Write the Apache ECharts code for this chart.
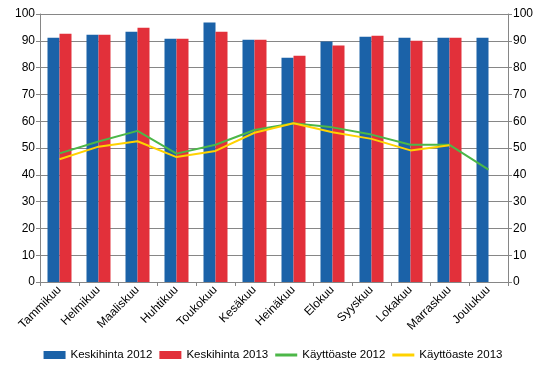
<!DOCTYPE html>
<html>
<head>
<meta charset="utf-8">
<script src="https://cdn.jsdelivr.net/npm/echarts@6/dist/echarts.min.js"></script>
<style>
  html, body {margin:0; padding:0; background:#fff;}
  #chart {width:546px; height:376px;}
</style>
</head>
<body>
<div id="chart"></div>
<script type="text/javascript">
// kuukaudet
var months = ['Tammikuu', 'Helmikuu', 'Maaliskuu', 'Huhtikuu', 'Toukokuu', 'Kesäkuu',
              'Heinäkuu', 'Elokuu', 'Syyskuu', 'Lokakuu', 'Marraskuu', 'Joulukuu'];
var price2012 = [91.1, 92.3, 93.4, 90.8, 96.8, 90.4, 83.7, 89.7, 91.5, 91.1, 91.1, 91.1];
var price2013 = [92.6, 92.3, 94.9, 90.8, 93.4, 90.4, 84.4, 88.2, 91.9, 90.0, 91.1, null];
var occ2012 = [48.0, 52.4, 56.4, 47.9, 51.2, 56.7, 59.2, 57.7, 55.0, 51.2, 51.2, 41.9];
var occ2013 = [45.8, 50.5, 52.5, 46.6, 48.9, 55.7, 59.2, 55.9, 53.4, 49.1, 51.0, null];

var font = 'Liberation Sans, Arial, sans-serif';
var gray = '#868686';
var lineIcon = 'path://M0 0H22V3H0Z';

var chart = echarts.init(document.getElementById('chart'));

function valAxis(pos) {
  return {
    type: 'value', position: pos, min: 0, max: 100, interval: 10,
    axisLine: {show: true, lineStyle: {color: gray}},
    axisTick: {show: true, length: 4, lineStyle: {color: gray}},
    axisLabel: {color: '#000', fontFamily: font, fontSize: 12, margin: 5},
    splitLine: {show: pos === 'left', lineStyle: {color: gray, width: 1}}
  };
}

chart.setOption({
  animation: false,
  textStyle: {fontFamily: font},
  grid: {left: 40, right: 38, top: 14, bottom: 94},
  legend: {
    bottom: 10, left: 'center', itemGap: 7, itemWidth: 22, itemHeight: 8,
    textStyle: {fontFamily: font, fontSize: 11.5, color: '#000'},
    data: [
      {name: 'Keskihinta 2012', icon: 'rect'},
      {name: 'Keskihinta 2013', icon: 'rect'},
      {name: 'Käyttöaste 2012', icon: lineIcon},
      {name: 'Käyttöaste 2013', icon: lineIcon}
    ]
  },
  xAxis: {
    type: 'category', data: months,
    axisLine: {lineStyle: {color: gray}},
    axisTick: {show: true, length: 4, lineStyle: {color: gray}},
    axisLabel: {color: '#000', fontFamily: font, fontSize: 12, rotate: 45, interval: 0, margin: 6}
  },
  yAxis: [valAxis('left'), valAxis('right')],
  series: [
    {name: 'Keskihinta 2012', type: 'bar', data: price2012, barWidth: 12, barGap: '0%',
     itemStyle: {color: '#1b62a8'}},
    {name: 'Keskihinta 2013', type: 'bar', data: price2013, barWidth: 12,
     itemStyle: {color: '#e2303a'}},
    {name: 'Käyttöaste 2012', type: 'line', data: occ2012, symbol: 'none',
     lineStyle: {color: '#4cb748', width: 2}, itemStyle: {color: '#4cb748'}},
    {name: 'Käyttöaste 2013', type: 'line', data: occ2013, symbol: 'none',
     lineStyle: {color: '#ffd200', width: 2}, itemStyle: {color: '#ffd200'}}
  ]
});
</script>
</body>
</html>
